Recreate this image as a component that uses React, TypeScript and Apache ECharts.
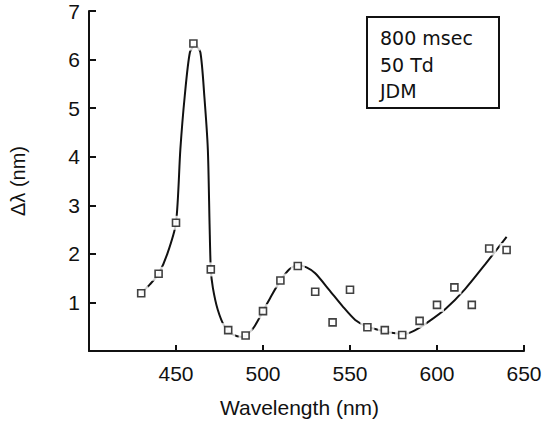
import React, { useEffect, useRef } from "react";
import * as echarts from "echarts";

const wavelengths = [430, 440, 450, 460, 470, 480, 490, 500, 510, 520, 530, 540, 550, 560, 570, 580, 590, 600, 610, 620, 630, 640];
const deltaLambda = [1.19, 1.59, 2.64, 6.33, 1.68, 0.43, 0.32, 0.82, 1.45, 1.75, 1.22, 0.59, 1.26, 0.49, 0.43, 0.33, 0.62, 0.95, 1.31, 0.95, 2.11, 2.08];

const fitX = [430, 435, 440, 445, 450, 452.5, 455, 458, 461, 464, 466.3, 468.3, 469.3, 470, 471.2, 474, 478, 483, 488, 494, 500, 505, 510, 515, 520, 525, 530, 538, 546, 553, 560, 568, 575, 581, 587, 595, 605, 616, 628, 640];
const fitY = [1.19, 1.37, 1.59, 2.0, 2.64, 4.15, 5.24, 6.15, 6.3, 6.15, 5.24, 4.15, 2.6, 1.68, 1.3, 0.85, 0.5, 0.33, 0.29, 0.45, 0.82, 1.15, 1.45, 1.68, 1.77, 1.72, 1.6, 1.26, 0.91, 0.64, 0.5, 0.42, 0.37, 0.35, 0.42, 0.6, 0.87, 1.27, 1.8, 2.35];

const legendLines = ["800 msec", "50 Td", "JDM"];

const FONT = "Liberation Sans, Arial, Helvetica, sans-serif";

export default function App() {
  const ref = useRef<HTMLDivElement>(null);
  useEffect(() => {
    document.body.style.margin = "0";
    const chart = echarts.init(ref.current!, undefined, { renderer: "svg" });
    const points = wavelengths.map((w, i) => [w, deltaLambda[i]]);
    const fit = fitX.map((w, i) => [w, fitY[i]]);
    chart.setOption({
      animation: false,
      backgroundColor: "#fff",
      grid: { left: 89, right: 29, top: 11, bottom: 75 },
      xAxis: {
        type: "value",
        min: 400,
        max: 650,
        interval: 50,
        name: "Wavelength (nm)",
        nameLocation: "middle",
        nameGap: 46,
        nameTextStyle: { fontFamily: FONT, fontSize: 21, color: "#111", padding: [0, 14, 0, 0] },
        axisLine: { lineStyle: { color: "#111", width: 2 } },
        axisTick: { inside: true, length: 6, lineStyle: { color: "#111", width: 2 } },
        axisLabel: {
          fontFamily: FONT,
          fontSize: 21,
          color: "#111",
          margin: 12,
          formatter: (v: number) => (v === 400 ? "" : String(v)),
        },
        splitLine: { show: false },
      },
      yAxis: {
        type: "value",
        min: 0,
        max: 7,
        interval: 1,
        name: "Δλ (nm)",
        nameLocation: "middle",
        nameGap: 61,
        nameTextStyle: { fontFamily: FONT, fontSize: 20, color: "#111" },
        axisLine: { show: true, lineStyle: { color: "#111", width: 2 } },
        axisTick: { show: true, inside: true, length: 7, lineStyle: { color: "#111", width: 2 } },
        axisLabel: {
          fontFamily: FONT,
          fontSize: 21,
          color: "#111",
          margin: 9,
          formatter: (v: number) => (v === 0 ? "" : String(v)),
        },
        splitLine: { show: false },
      },
      graphic: [
        {
          type: "rect",
          shape: { x: 367, y: 17, width: 132, height: 91 },
          style: { fill: "#fff", stroke: "#111", lineWidth: 2 },
          z: 10,
        },
        ...legendLines.map((t, i) => ({
          type: "text",
          x: 380,
          y: 38 + i * 26.7,
          z: 11,
          style: {
            text: t,
            fontFamily: "DejaVu Sans, sans-serif",
            fontSize: 19,
            fill: "#111",
            verticalAlign: "middle",
            align: "left",
          },
        })),
      ],
      series: [
        {
          type: "line",
          data: fit,
          smooth: 0.25,
          symbol: "none",
          lineStyle: { color: "#111", width: 2 },
          z: 2,
        },
        {
          type: "scatter",
          data: points,
          symbol: "rect",
          symbolSize: 14,
          itemStyle: { color: "#fff", borderWidth: 0 },
          z: 3,
          silent: true,
        },
        {
          type: "scatter",
          data: points,
          symbol: "rect",
          symbolSize: 7,
          itemStyle: { color: "#fff", borderColor: "#111", borderWidth: 1.6 },
          z: 4,
        },
      ],
    });
    return () => chart.dispose();
  }, []);
  return <div ref={ref} style={{ width: 553, height: 426 }} />;
}
